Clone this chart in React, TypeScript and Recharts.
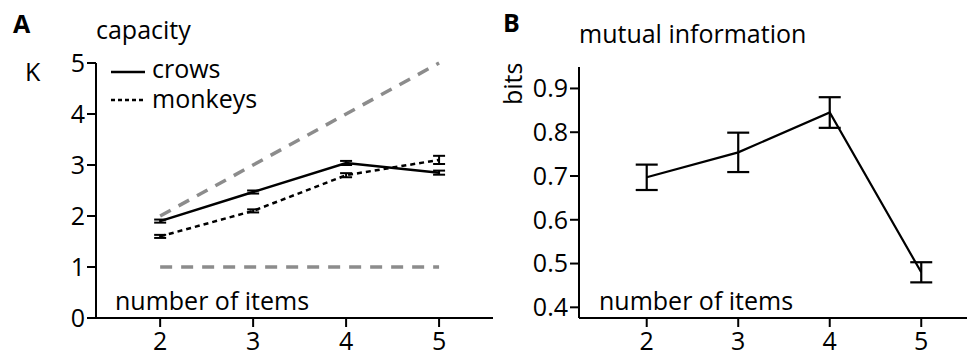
import { LineChart, Line, XAxis, YAxis, ErrorBar, Legend } from 'recharts';

const items = [2, 3, 4, 5];
const crowsK = [1.9, 2.47, 3.04, 2.85];
const crowsErr = [0.03, 0.03, 0.04, 0.04];
const monkeysK = [1.6, 2.1, 2.8, 3.1];
const monkeysErr = [0.03, 0.03, 0.04, 0.08];
const perfectK = [2, 3, 4, 5];
const floorK = [1, 1, 1, 1];
const kTicks = [0, 1, 2, 3, 4, 5];

const mutualInfo = [0.697, 0.754, 0.845, 0.48];
const mutualInfoErr = [0.029, 0.045, 0.035, 0.023];
const bitsTicks = [0.4, 0.5, 0.6, 0.7, 0.8, 0.9];

const FONT = '"Open Sans", sans-serif';
const FS = 25;

const capacityData = items.map((n, i) => ({
  n,
  crows: crowsK[i],
  crowsErr: crowsErr[i],
  monkeys: monkeysK[i],
  monkeysErr: monkeysErr[i],
  perfect: perfectK[i],
  floor: floorK[i],
}));

const infoData = items.map((n, i) => ({ n, bits: mutualInfo[i], bitsErr: mutualInfoErr[i] }));

const axisStyle = { stroke: '#000', strokeWidth: 2 };
const tickStyle = { fill: '#000', fontSize: FS, fontFamily: FONT };

// legend drawn by hand so the dashes match the series
function CapacityLegend() {
  return (
    <svg width={220} height={66} style={{ fontFamily: FONT, fontSize: FS, display: 'block' }}>
      <line x1={3} x2={37} y1={22} y2={22} stroke="#000" strokeWidth={2.5} />
      <text x={44} y={28} fill="#000">crows</text>
      <line x1={3} x2={37} y1={50} y2={50} stroke="#000" strokeWidth={2.5} strokeDasharray="4 3" />
      <text x={44} y={58} fill="#000">monkeys</text>
    </svg>
  );
}

export default function App() {
  return (
    <div style={{ position: 'absolute', left: 0, top: 0, width: 967, height: 354, background: '#fff', overflow: 'hidden' }}>
      <div style={{ position: 'absolute', left: 0, top: 0 }}>
        <LineChart width={500} height={354} data={capacityData} margin={{ top: 63, right: 7, bottom: 0, left: 0 }}>
          <XAxis
            dataKey="n"
            type="number"
            domain={[1.31, 5.58]}
            ticks={items}
            height={36}
            tickSize={9}
            tickMargin={5}
            axisLine={axisStyle}
            tickLine={axisStyle}
            tick={tickStyle}
          />
          <YAxis
            type="number"
            domain={[0, 5]}
            ticks={kTicks}
            width={96}
            tickSize={9}
            tickMargin={2}
            axisLine={axisStyle}
            tickLine={axisStyle}
            tick={tickStyle}
          />
          <Legend
            layout="horizontal"
            verticalAlign="middle"
            align="center"
            content={<CapacityLegend />}
            wrapperStyle={{ position: 'absolute', left: 108, top: 50, width: 220, height: 66 }}
          />
          <Line dataKey="perfect" stroke="#8c8c8c" strokeWidth={3.5} strokeDasharray="12 9" dot={false} legendType="none" isAnimationActive={false} />
          <Line dataKey="floor" stroke="#8c8c8c" strokeWidth={3.5} strokeDasharray="12 9" dot={false} legendType="none" isAnimationActive={false} />
          <Line dataKey="monkeys" name="monkeys" stroke="#000" strokeWidth={2.5} strokeDasharray="5 4" dot={false} isAnimationActive={false}>
            <ErrorBar dataKey="monkeysErr" direction="y" width={6} strokeWidth={2} stroke="#000" />
          </Line>
          <Line dataKey="crows" name="crows" stroke="#000" strokeWidth={2.5} dot={false} isAnimationActive={false}>
            <ErrorBar dataKey="crowsErr" direction="y" width={6} strokeWidth={2} stroke="#000" />
          </Line>
        </LineChart>
      </div>
      <div style={{ position: 'absolute', left: 480, top: 0 }}>
        <LineChart width={487} height={354} data={infoData} margin={{ top: 67, right: 0, bottom: 0, left: 0 }}>
          <XAxis
            dataKey="n"
            type="number"
            domain={[1.26, 5.5]}
            ticks={items}
            height={36}
            tickSize={9}
            tickMargin={5}
            axisLine={axisStyle}
            tickLine={axisStyle}
            tick={tickStyle}
          />
          <YAxis
            type="number"
            domain={[0.3756, 0.949]}
            ticks={bitsTicks}
            tickFormatter={(v: number) => v.toFixed(1)}
            width={99}
            tickSize={9}
            tickMargin={2}
            axisLine={axisStyle}
            tickLine={axisStyle}
            tick={tickStyle}
          />
          <Line dataKey="bits" stroke="#000" strokeWidth={2.2} dot={false} isAnimationActive={false}>
            <ErrorBar dataKey="bitsErr" direction="y" width={11} strokeWidth={2.2} stroke="#000" />
          </Line>
        </LineChart>
      </div>
      <svg width={967} height={354} style={{ position: 'absolute', left: 0, top: 0, pointerEvents: 'none', fontFamily: FONT, fontSize: FS }}>
        <text x={13} y={33} fontWeight="bold" fill="#000">A</text>
        <text x={96} y={39} fill="#000">capacity</text>
        <text x={25} y={81} fill="#000">K</text>
        <text x={115} y={310} fill="#000">number of items</text>
        <text x={503} y={32} fontWeight="bold" fill="#000">B</text>
        <text x={579} y={43} fill="#000">mutual information</text>
        <text x={599} y={310} fill="#000">number of items</text>
        <text transform="translate(522,105) rotate(-90)" fill="#000">bits</text>
      </svg>
    </div>
  );
}
